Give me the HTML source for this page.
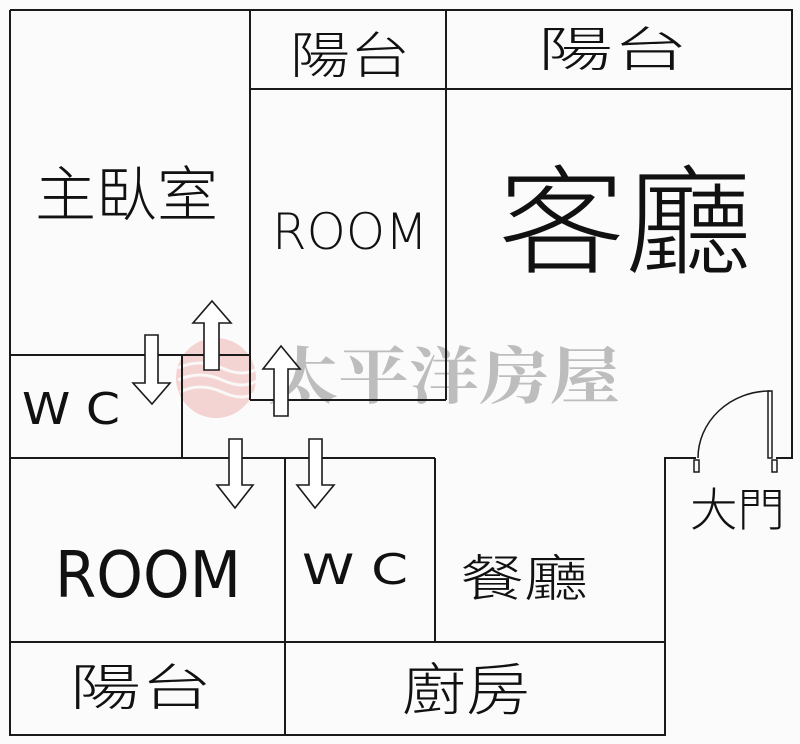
<!DOCTYPE html>
<html><head><meta charset="utf-8"><style>
html,body{margin:0;padding:0;background:#fbfbfb;}
svg{display:block}
text{font-family:"DejaVu Sans","Liberation Sans","Noto Sans CJK TC",sans-serif;fill:#111;}
.c{font-family:"Noto Sans CJK TC","WenQuanYi Zen Hei",sans-serif;font-weight:300;}
</style></head><body>
<svg width="800" height="744" viewBox="0 0 800 744" xmlns="http://www.w3.org/2000/svg">
<rect width="800" height="744" fill="#fbfbfb"/>
<circle cx="216" cy="378" r="40" fill="#f3c9c9" opacity="0.8"/>
<g stroke="#fbfbfb" stroke-width="3" fill="none" opacity="0.9">
<path d="M178 368 Q200 358 222 368 T258 368"/><path d="M178 380 Q200 370 222 380 T258 380"/><path d="M180 392 Q200 382 222 392 T256 392"/>
</g>
<text x="268" y="398" font-size="62" font-weight="700" textLength="352" lengthAdjust="spacingAndGlyphs" style="fill:#bdbdbd;font-family:'Noto Serif CJK SC',serif">太平洋房屋</text>
<g stroke="#1a1a1a" stroke-width="2" fill="none">
<path d="M10 10 H792 V458 H776"/>
<path d="M696 458 H665 V735 H10 V10"/>
<line x1="250" y1="10" x2="250" y2="400"/>
<line x1="446" y1="10" x2="446" y2="400"/>
<line x1="250" y1="89" x2="792" y2="89"/>
<line x1="250" y1="400" x2="446" y2="400"/>
<line x1="10" y1="355" x2="250" y2="355"/>
<line x1="182" y1="355" x2="182" y2="458"/>
<line x1="10" y1="458" x2="435" y2="458"/>
<line x1="285" y1="458" x2="285" y2="735"/>
<line x1="435" y1="458" x2="435" y2="642"/>
<line x1="10" y1="642" x2="665" y2="642"/>
<rect x="768" y="391" width="4" height="67" stroke-width="1.5"/>
<path d="M770 391 A72 67 0 0 0 698 458" stroke-width="1.5"/>
<rect x="694" y="460" width="5" height="12" stroke-width="1.5"/>
<rect x="772" y="460" width="5" height="12" stroke-width="1.5"/>
</g>
<g stroke="#1a1a1a" stroke-width="1.6" fill="#fff">
<path d="M212 301 L231 323 H219 V370 H204 V323 H193 Z"/>
<path d="M152 404 L170 383 H158 V335 H145 V383 H133 Z"/>
<path d="M281 346 L300 369 H288 V416 H274 V369 H263 Z"/>
<path d="M235 508 L253 485 H242 V439 H229 V485 H217 Z"/>
<path d="M315 508 L334 485 H322 V439 H309 V485 H297 Z"/>
</g>
<text class="c" x="290" y="73" font-size="50" textLength="120" lengthAdjust="spacingAndGlyphs">陽台</text>
<text class="c" x="538" y="66" font-size="48" textLength="150" lengthAdjust="spacingAndGlyphs">陽台</text>
<text class="c" x="35" y="216" font-size="60" textLength="183" lengthAdjust="spacingAndGlyphs">主臥室</text>
<text x="272" y="249" font-size="50" textLength="156" lengthAdjust="spacingAndGlyphs" font-weight="300">ROOM</text>
<text class="c" x="498" y="264" font-size="118" font-weight="400" textLength="254" lengthAdjust="spacingAndGlyphs">客廳</text>
<text x="22" y="424" font-size="44" textLength="98" lengthAdjust="spacingAndGlyphs">W C</text>
<text x="55" y="597" font-size="64" textLength="186" lengthAdjust="spacingAndGlyphs">ROOM</text>
<text x="302" y="584" font-size="42" textLength="106" lengthAdjust="spacingAndGlyphs">W C</text>
<text class="c" x="460" y="596" font-size="50" textLength="128" lengthAdjust="spacingAndGlyphs">餐廳</text>
<text class="c" x="690" y="526" font-size="46" textLength="95" lengthAdjust="spacingAndGlyphs">大門</text>
<text class="c" x="70" y="705" font-size="50" textLength="142" lengthAdjust="spacingAndGlyphs">陽台</text>
<text class="c" x="402" y="710" font-size="56" textLength="128" lengthAdjust="spacingAndGlyphs">廚房</text>
</svg>
</body></html>
